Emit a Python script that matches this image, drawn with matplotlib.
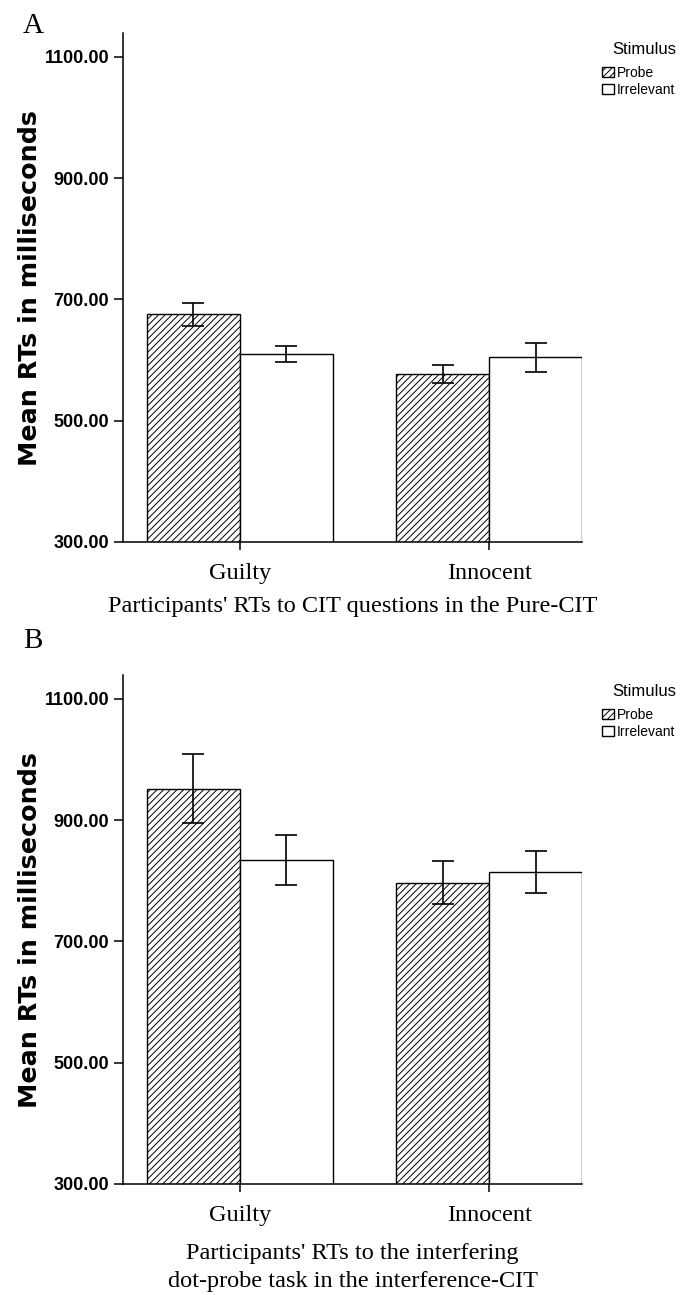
import matplotlib
matplotlib.use('Agg')
import matplotlib.pyplot as plt
from matplotlib.patches import Patch

# ---------------- data ----------------
groups = ['Guilty', 'Innocent']
stimuli = ['Probe', 'Irrelevant']

a_probe = [676, 577]
a_probe_err = [19, 15]
a_irr = [610, 605]
a_irr_err = [13, 24]

b_probe = [952, 797]
b_probe_err = [57, 36]
b_irr = [834, 815]
b_irr_err = [41, 35]

yticks = [300, 500, 700, 900, 1100]
ylabel_text = 'Mean RTs in milliseconds'
xlabel_a = "Participants' RTs to CIT questions in the Pure-CIT"
xlabel_b = "Participants' RTs to the interfering\ndot-probe task in the interference-CIT"
legend_title = 'Stimulus'

# ---------------- layout ----------------
W, H, DPI = 687, 1295, 100
fig = plt.figure(figsize=(W / DPI, H / DPI), dpi=DPI)
plt.rcParams['hatch.linewidth'] = 0.7

SANS = 'Liberation Sans'
SERIF = 'Liberation Serif'


def fy(p):
    return 1 - p / H


def panel(ax_box, top_px, probe, probe_err, irr, irr_err, xlabel, labelpad,
          letter, letter_y):
    ax = fig.add_axes(ax_box)
    w = 0.372
    xs = list(range(len(groups)))
    xp = [x - w / 2 for x in xs]
    xi = [x + w / 2 for x in xs]
    ax.bar(xp, probe, width=w, color='white', edgecolor='black',
           hatch='/////', linewidth=1.0, zorder=2)
    ax.bar(xi, irr, width=w, color='white', edgecolor='black',
           linewidth=1.0, zorder=2)
    ax.errorbar(xp, probe, yerr=probe_err, fmt='none', ecolor='black',
                elinewidth=1.2, capsize=8, capthick=1.2, zorder=3)
    ax.errorbar(xi, irr, yerr=irr_err, fmt='none', ecolor='black',
                elinewidth=1.2, capsize=8, capthick=1.2, zorder=3)
    ax.set_ylim(300, 1139.5)
    ax.set_xlim(-0.468, 1 + w)
    for s in ['top', 'right']:
        ax.spines[s].set_visible(False)
    for s in ['left', 'bottom']:
        ax.spines[s].set_linewidth(1.1)
    ax.set_yticks(yticks)
    ax.set_yticklabels([f'{v:.2f}' for v in yticks], fontfamily=SANS,
                       fontweight='bold', fontsize=13)
    ax.set_xticks(xs)
    ax.set_xticklabels(groups, fontfamily=SERIF, fontsize=17.5)
    ax.tick_params(axis='y', direction='out', length=6.5, width=1.1, pad=3.5)
    ax.tick_params(axis='x', direction='out', length=6, width=1.1, pad=9)
    ax.set_ylabel(ylabel_text, fontfamily='DejaVu Sans', fontweight='bold',
                  fontsize=18.3)
    ax.yaxis.set_label_coords(-0.176, 0.5)
    ax.set_xlabel(xlabel, fontfamily=SERIF, fontsize=17.5, labelpad=labelpad,
                  linespacing=1.46)
    fig.text(23 / W, fy(letter_y), letter, fontfamily=SERIF, fontsize=21,
             va='baseline', ha='left')
    # legend title
    fig.text(644 / W, fy(top_px + 16), legend_title, fontfamily=SANS,
             fontsize=12, ha='center', va='center')
    handles = [Patch(facecolor='white', edgecolor='black', hatch='/////',
                     linewidth=1.0, label=stimuli[0]),
               Patch(facecolor='white', edgecolor='black', linewidth=1.0,
                     label=stimuli[1])]
    ax.legend(handles=handles, loc='upper left',
              bbox_to_anchor=(602 / W, fy(top_px + 33)),
              bbox_transform=fig.transFigure, frameon=False,
              borderpad=0, borderaxespad=0, handlelength=0.85,
              handleheight=0.8, handletextpad=0.2, labelspacing=0.2,
              prop={'family': SANS, 'size': 10})
    return ax


axA = panel([123 / W, fy(542), (582 - 123) / W, (542 - 33) / H], 33,
            a_probe, a_probe_err, a_irr, a_irr_err, xlabel_a, 9, 'A', 33)
axB = panel([123 / W, fy(1184), (582 - 123) / W, (1184 - 675) / H], 675,
            b_probe, b_probe_err, b_irr, b_irr_err, xlabel_b, 12, 'B', 648)

fig.savefig('out.png', dpi=DPI)
